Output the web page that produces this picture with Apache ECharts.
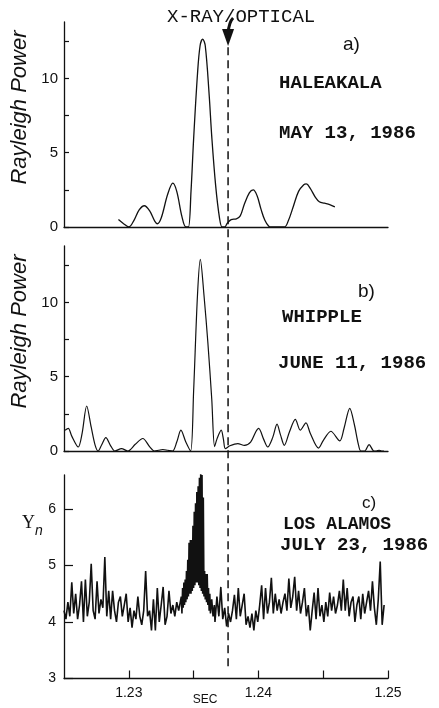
<!DOCTYPE html>
<html><head><meta charset="utf-8">
<script src="https://cdn.jsdelivr.net/npm/echarts@6/dist/echarts.min.js"></script>
<style>html,body{margin:0;padding:0;background:#fff}#c{width:439px;height:708px}</style>
</head><body><div id="c"></div>
<script>
const xMin = 1.225, xMax = 1.25;
const opticalPhase = 1.23766;
const powerTicks = [0, 2.5, 5, 7.5, 10, 12.5];
const powerLabels = [0, 5, 10];
const ynTicks = [3, 4, 5, 6];
const secTicks = [1.23, 1.235, 1.24, 1.245, 1.25];
const secLabels = [1.23, 1.24, 1.25];

// a) Haleakala, May 13 1986 : [period (s), Rayleigh power]
const haleakala = [
 [1.2292,0.5],[1.2296,0.22],[1.2300,0.0],[1.2304,0.45],[1.2308,1.15],[1.2312,1.43],[1.2316,1.1],[1.2320,0.4],[1.2322,0.22],
 [1.2325,0.6],[1.2330,2.2],[1.2334,2.95],[1.2337,2.4],[1.2341,0.7],[1.2344,0.0],[1.2346,0.0],[1.2348,2.4],[1.2350,5.9],
 [1.2353,10.3],[1.2355,12.2],[1.2357,12.65],[1.2359,12.2],[1.2362,8.9],[1.2364,6.1],[1.2367,2.8],[1.2370,0.6],[1.2372,0.0],
 [1.2374,0.0],[1.2376,0.25],[1.2379,0.5],[1.2383,0.55],[1.2386,0.75],[1.2389,1.5],[1.2393,2.3],[1.2396,2.5],[1.2399,2.1],
 [1.2402,1.2],[1.2405,0.45],[1.2408,0.05],[1.2410,0.0],[1.2420,0.0],[1.2423,0.4],[1.2427,1.4],[1.2431,2.4],[1.2435,2.85],
 [1.2437,2.9],[1.2440,2.6],[1.2444,2.0],[1.2447,1.7],[1.2451,1.6],[1.2455,1.5],[1.2459,1.35]
];

// b) Whipple, June 11 1986
const whipple = [
 [1.22508,1.4],[1.22533,1.52],[1.2256,1.0],[1.2261,0.27],[1.2264,1.2],[1.22675,3.03],[1.2271,1.6],[1.2274,0.4],[1.22764,0.0],
 [1.2279,0.4],[1.22823,0.9],[1.2286,0.35],[1.22892,0.0],[1.22944,0.16],[1.22992,0.0],[1.2305,0.45],[1.23108,0.84],[1.2316,0.3],
 [1.23198,0.0],[1.2323,0.05],[1.23262,0.1],[1.2330,0.05],[1.23338,0.0],[1.2337,0.6],[1.23402,1.4],[1.2344,0.6],[1.23477,0.0],
 [1.2350,4.0],[1.2353,10.5],[1.23552,12.9],[1.2358,10.5],[1.2361,7.3],[1.2364,3.5],[1.23662,0.3],[1.2368,0.8],[1.23713,1.4],[1.2373,0.8],
 [1.23745,0.16],[1.2378,0.35],[1.23841,0.5],[1.23892,0.38],[1.2394,0.6],[1.2398,1.3],[1.24002,1.52],[1.2404,0.8],[1.24072,0.27],
 [1.2411,0.9],[1.24144,1.81],[1.2417,1.1],[1.2420,0.38],[1.2424,1.3],[1.24285,2.13],[1.24323,1.4],[1.24367,1.9],[1.2440,1.2],
 [1.24464,0.2],[1.2450,0.7],[1.24559,1.33],[1.24628,0.68],[1.2466,1.5],[1.24705,2.87],[1.2474,1.8],[1.2477,0.5],[1.2479,0.0],
 [1.2482,0.0],[1.24854,0.43],[1.24892,0.0],[1.2491,0.0],[1.24931,0.05],[1.2495,0.0],[1.24969,0.0]
];

// c) Los Alamos, July 23 1986 : [period (s), Y_n]
const losAlamos = [
 [1.22500,4.2],[1.22515,4.05],[1.22530,4.35],[1.22545,4.1],[1.22560,4.7],[1.22575,4.15],[1.22590,4.5],[1.22605,4.05],
 [1.22620,4.3],[1.22635,4.72],[1.22650,4.0],[1.22665,4.75],[1.22680,4.1],[1.22695,4.35],[1.22710,5.03],[1.22725,4.2],
 [1.22740,4.05],[1.22755,4.72],[1.22770,4.15],[1.22785,4.4],[1.22800,4.25],[1.22815,5.15],[1.22830,4.1],[1.22845,4.55],
 [1.22860,4.05],[1.22875,4.55],[1.22890,4.2],[1.22905,4.0],[1.22920,4.35],[1.22935,4.45],[1.22950,4.1],[1.22965,4.3],
 [1.22980,4.5],[1.22995,4.0],[1.23010,4.25],[1.23025,3.9],[1.23040,4.2],[1.23055,4.05],[1.23070,4.45],[1.23085,4.1],
 [1.23100,3.95],[1.23115,4.2],[1.23130,4.9],[1.23145,4.1],[1.23160,4.2],[1.23175,3.85],[1.23190,4.4],[1.23205,3.85],
 [1.23220,4.6],[1.23235,4.0],[1.23250,4.3],[1.23265,4.62],[1.23280,3.95],[1.23295,4.1],[1.23310,4.55],[1.23325,4.15],
 [1.23340,4.3],[1.23355,4.1],[1.23370,4.35],[1.23385,4.2],
 [1.23400,4.2],[1.23405,4.45],[1.23410,4.15],[1.23415,4.6],[1.23420,4.25],[1.23425,4.7],[1.23430,4.3],[1.23435,4.75],
 [1.23440,4.35],[1.23445,4.9],[1.23450,4.4],[1.23455,5.1],[1.23460,4.45],[1.23465,5.4],[1.23470,4.5],[1.23475,5.45],
 [1.23480,4.5],[1.23485,5.45],[1.23490,4.55],[1.23495,5.7],[1.23500,4.6],[1.23505,5.95],[1.23510,4.65],[1.23515,6.1],
 [1.23520,4.7],[1.23525,6.3],[1.23530,4.7],[1.23535,6.4],[1.23540,4.65],[1.23545,6.55],[1.23550,4.6],[1.23555,6.67],
 [1.23560,4.55],[1.23565,6.6],[1.23570,4.5],[1.23575,6.2],[1.23580,4.45],[1.23585,4.9],[1.23590,4.4],[1.23595,4.85],
 [1.23600,4.35],[1.23605,4.85],[1.23610,4.3],[1.23615,4.6],[1.23620,4.2],[1.23625,4.5],[1.23630,4.15],[1.23640,4.4],
 [1.23650,4.1],[1.23660,4.3],
 [1.23665,4.0],[1.23680,4.45],[1.23695,4.1],[1.23710,4.62],[1.23725,4.05],[1.23740,4.25],[1.23755,3.92],
 [1.23770,4.15],[1.23785,4.0],[1.23800,4.2],[1.23815,4.48],[1.23830,4.05],[1.23845,4.6],[1.23860,4.1],[1.23875,4.3],
 [1.23890,4.5],[1.23905,3.95],[1.23920,4.1],[1.23935,3.9],[1.23950,4.15],[1.23965,3.85],[1.23980,4.2],[1.23995,4.0],
 [1.24010,4.3],[1.24025,4.65],[1.24040,4.05],[1.24055,4.6],[1.24070,4.15],[1.24085,4.35],[1.24100,4.78],[1.24115,4.15],
 [1.24130,4.5],[1.24145,4.2],[1.24160,4.4],[1.24175,4.15],[1.24190,4.35],[1.24205,4.5],[1.24220,4.2],[1.24235,4.77],
 [1.24250,4.25],[1.24265,4.45],[1.24280,4.8],[1.24295,4.2],[1.24310,4.55],[1.24325,4.15],[1.24340,4.35],[1.24355,4.6],
 [1.24370,4.1],[1.24385,4.3],[1.24400,3.85],[1.24415,4.2],[1.24430,4.52],[1.24445,4.05],[1.24460,4.6],[1.24475,4.1],
 [1.24490,4.3],[1.24505,4.0],[1.24520,4.35],[1.24535,4.1],[1.24550,4.52],[1.24565,4.2],[1.24580,4.45],[1.24595,4.15],
 [1.24610,4.3],[1.24625,4.55],[1.24640,4.2],[1.24655,4.75],[1.24670,4.2],[1.24685,4.6],[1.24700,4.1],[1.24715,4.35],
 [1.24730,4.45],[1.24745,4.0],[1.24760,4.3],[1.24775,4.45],[1.24790,4.05],[1.24805,4.5],[1.24820,4.15],[1.24835,4.35],
 [1.24850,4.55],[1.24865,4.2],[1.24880,4.72],[1.24895,4.25],[1.24910,3.95],[1.24925,4.4],[1.24940,5.07],[1.24955,3.95],
 [1.24970,4.3]
];

const ink = '#111';
const sans = "'Liberation Sans', Arial, sans-serif";
const mono = "'Liberation Mono', 'DejaVu Sans Mono', monospace";

function powerY(gi) {
  return {
    gridIndex: gi, type: 'value', min: 0, max: 13.8,
    name: 'Rayleigh Power', nameLocation: 'middle', nameGap: 17,
    nameTextStyle: { fontFamily: sans, fontStyle: 'italic', fontSize: 22, color: ink, padding: [0, 0, 0, 34] },
    axisLine: { show: true, lineStyle: { color: ink, width: 1.3 } },
    axisTick: { show: true, inside: true, length: 5, customValues: powerTicks, lineStyle: { color: ink, width: 1.2 } },
    axisLabel: { customValues: powerLabels, margin: 6, fontFamily: sans, fontSize: 15, color: ink },
    splitLine: { show: false }
  };
}
function plainX(gi) {
  return {
    gridIndex: gi, type: 'value', min: xMin, max: xMax,
    axisLine: { show: true, onZero: false, lineStyle: { color: ink, width: 1.3 } },
    axisTick: { show: false }, axisLabel: { show: false }, splitLine: { show: false }
  };
}
function lineSeries(i, data, smooth, w) {
  return { type: 'line', xAxisIndex: i, yAxisIndex: i, data: data, smooth: smooth, showSymbol: false,
    lineStyle: { color: ink, width: w }, animation: false, clip: true };
}

const chart = echarts.init(document.getElementById('c'), null, { renderer: 'canvas' });
chart.setOption({
  backgroundColor: '#fff',
  animation: false,
  grid: [
    { left: 64, top: 22, width: 324, height: 205 },
    { left: 64, top: 246, width: 324, height: 205 },
    { left: 64, top: 475, width: 324, height: 203.5 }
  ],
  xAxis: [
    plainX(0), plainX(1),
    {
      gridIndex: 2, type: 'value', min: xMin, max: xMax,
      axisLine: { show: true, onZero: false, lineStyle: { color: ink, width: 1.3 } },
      axisTick: { show: true, inside: true, length: 8, customValues: secTicks, lineStyle: { color: ink, width: 1.2 } },
      axisLabel: { customValues: secLabels, margin: 8, fontFamily: sans, fontSize: 14, color: ink,
        formatter: v => v.toFixed(2) },
      splitLine: { show: false }
    }
  ],
  yAxis: [
    powerY(0), powerY(1),
    {
      gridIndex: 2, type: 'value', min: 3, max: 6.6,
      axisLine: { show: true, lineStyle: { color: ink, width: 1.3 } },
      axisTick: { show: true, inside: true, length: 9, customValues: ynTicks, lineStyle: { color: ink, width: 1.2 } },
      axisLabel: { customValues: ynTicks, margin: 8, fontFamily: sans, fontSize: 14, color: ink },
      splitLine: { show: false }
    }
  ],
  series: [
    lineSeries(0, haleakala, 0.35, 1.3),
    lineSeries(1, whipple, 0.3, 1.2),
    lineSeries(2, losAlamos, false, 1.6)
  ]
});

const xd = chart.convertToPixel({ xAxisIndex: 0 }, opticalPhase);
const yTop = chart.convertToPixel({ yAxisIndex: 0 }, 12.1);
const yBot = chart.convertToPixel({ yAxisIndex: 2 }, 3.15);

function txt(x, y, s, font, size, weight, style) {
  return { type: 'text', x: x, y: y, silent: true,
    style: { text: s, fontFamily: font, fontSize: size, fontWeight: weight || 'normal', fontStyle: style || 'normal',
      fill: ink, verticalAlign: 'middle' } };
}

chart.setOption({
  graphic: [
    { type: 'line', silent: true, shape: { x1: xd, y1: yTop, x2: xd, y2: yBot },
      style: { stroke: ink, lineWidth: 1.5, lineDash: [8, 5] } },
    { type: 'bezierCurve', silent: true,
      shape: { x1: xd + 5, y1: 18, x2: xd, y2: 33, cpx1: xd + 1, cpy1: 22 },
      style: { stroke: ink, lineWidth: 3, fill: null } },
    { type: 'polygon', silent: true,
      shape: { points: [[xd - 6, 29], [xd + 6, 29], [xd, 46]] }, style: { fill: ink } },
    txt(167, 17, 'X-RAY/OPTICAL', mono, 19),
    txt(343, 45, 'a)', sans, 19),
    txt(279, 83, 'HALEAKALA', mono, 19, 'bold'),
    txt(279, 133, 'MAY 13, 1986', mono, 19, 'bold'),
    txt(358, 292, 'b)', sans, 19),
    txt(282, 317, 'WHIPPLE', mono, 19, 'bold'),
    txt(278, 363, 'JUNE 11, 1986', mono, 19, 'bold'),
    txt(362, 503, 'c)', sans, 17),
    txt(283, 524, 'LOS ALAMOS', mono, 18, 'bold'),
    txt(280, 545, 'JULY 23, 1986', mono, 19, 'bold'),
    txt(22, 523, 'Υ', "'Liberation Serif', 'DejaVu Serif', serif", 18),
    txt(35, 531, 'n', sans, 14, 'normal', 'italic'),
    { type: 'text', x: 205, y: 700, silent: true,
      style: { text: 'SEC', fontFamily: sans, fontSize: 12, fill: ink, align: 'center', verticalAlign: 'middle' } }
  ]
});
</script>
</body></html>
